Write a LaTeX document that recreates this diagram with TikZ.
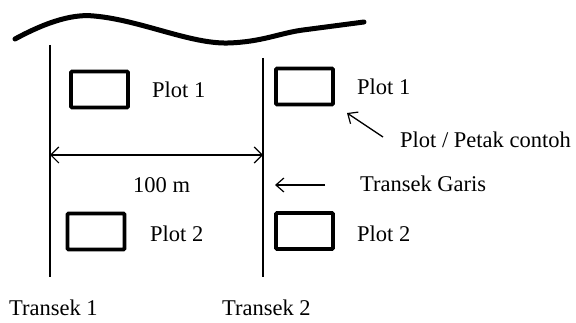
\documentclass[tikz,border=0pt]{standalone}
\usepackage{fontspec}
\setmainfont{Liberation Serif}
\usetikzlibrary{arrows.meta}
\begin{document}
\begin{tikzpicture}[x=1pt,y=-1pt,
  lbl/.style={anchor=base west,inner sep=0pt,font=\fontsize{22.5}{27}\selectfont},
  plotbox/.style={draw,line width=3.6pt,rounded corners=1pt,minimum width=57pt,minimum height=36pt,inner sep=0pt},
  tline/.style={line width=1.3pt},
  pointer/.style={line width=1.3pt,-{Straight Barb[length=8pt,width=14pt,line width=1.2pt]}},
  dim/.style={line width=1.3pt,{Straight Barb[length=8pt,width=16pt,line width=1.2pt]}-{Straight Barb[length=8pt,width=16pt,line width=1.2pt]}}]
\useasboundingbox (0,0) rectangle (576,323);
% river/edge
\draw[line width=5pt,line cap=round] (15,39) .. controls (50,20) and (75,14) .. (94,16)
  .. controls (140,20) and (190,44) .. (228,43)
  .. controls (262,42) and (280,33) .. (303,30)
  -- (364,22);
% transect lines
\coordinate (t1top) at (50,45);
\coordinate (t1bot) at (50,277);
\coordinate (t2top) at (263,58);
\coordinate (t2bot) at (263,277);
\draw[tline] (t1top) -- (t1bot);
\draw[tline] (t2top) -- (t2bot);
% plots
\node[plotbox] (b11) at (99.5,89.5) {};
\node[plotbox] (b21) at (304.5,86.5) {};
\node[plotbox] (b12) at (96,231.5) {};
\node[plotbox] (b22) at (304.5,231) {};
\node[lbl] (p11) at (152,98) {Plot 1};
\node[lbl] (p21) at (357,95) {Plot 1};
\node[lbl] (p12) at (150,242) {Plot 2};
\node[lbl] (p22) at (357,242) {Plot 2};
% dimension
\coordinate (dl) at (50,155);
\coordinate (dr) at (263,155);
\draw[dim] (dl) -- (dr);
\node[lbl] (hm) at (133,193) {100 m};
% labels with pointers
\node[lbl] (petak) at (400,148) {Plot / Petak contoh};
\coordinate (pa1) at (383,137);
\coordinate (pa2) at (347,113);
\draw[pointer] (pa1) -- (pa2);
\node[lbl] (garis) at (360,192) {Transek Garis};
\coordinate (ga1) at (325,185);
\coordinate (ga2) at (275,185);
\draw[pointer] (ga1) -- (ga2);
\node[lbl] (tr1) at (9,316) {Transek 1};
\node[lbl] (tr2) at (222,316) {Transek 2};
\end{tikzpicture}
\end{document}
